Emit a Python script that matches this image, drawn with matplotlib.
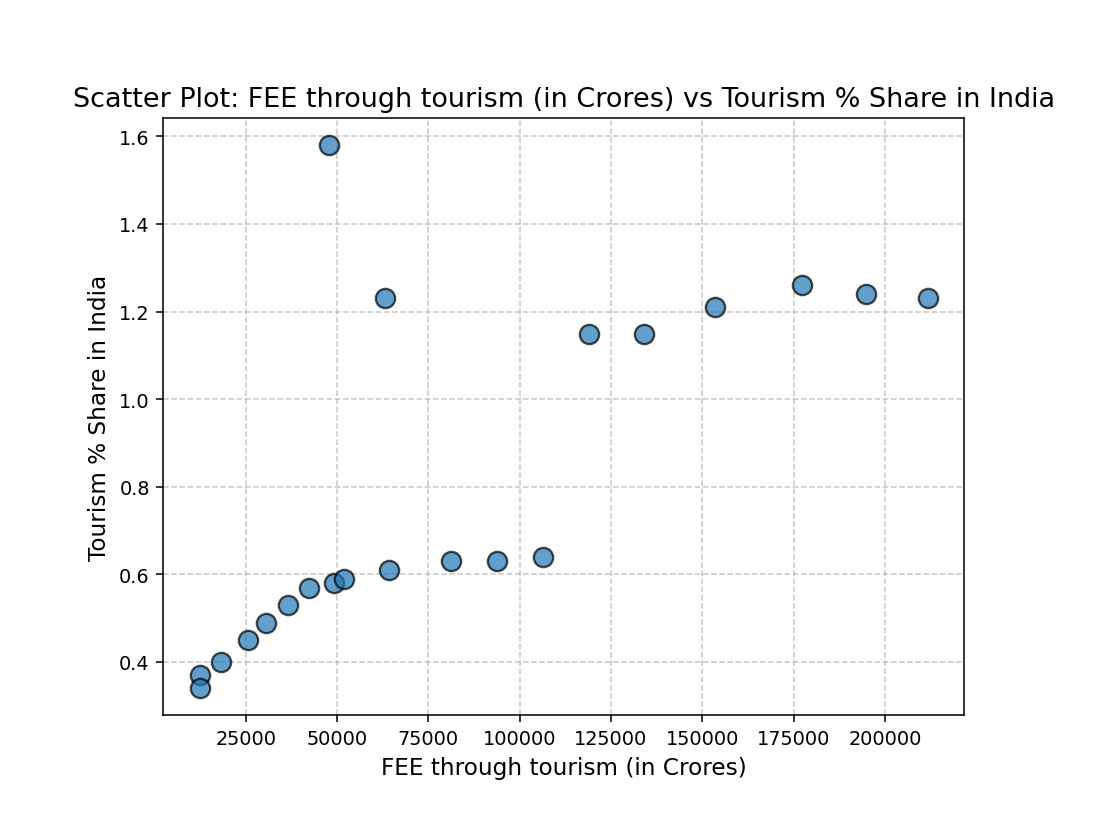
import matplotlib
matplotlib.use("Agg")
import matplotlib.pyplot as plt

fee = [12400, 12400, 18150, 25550, 30480, 36500, 42250, 49100, 51840, 64170,
       81150, 93750, 106350, 47730, 63070, 118950, 134000, 153450, 177300, 194800, 211800]
share = [0.37, 0.34, 0.40, 0.45, 0.49, 0.53, 0.57, 0.58, 0.59, 0.61,
         0.63, 0.63, 0.64, 1.58, 1.23, 1.15, 1.15, 1.21, 1.26, 1.24, 1.23]

fig = plt.figure(figsize=(8, 5.868), dpi=138.875)
ax = fig.add_axes([0.147, 0.121, 0.721, 0.733])
ax.scatter(fee, share, s=100, alpha=0.7, edgecolors='black', linewidths=1.2, zorder=3)
ax.set_title("Scatter Plot: FEE through tourism (in Crores) vs Tourism % Share in India", fontsize=14)
ax.set_xlabel("FEE through tourism (in Crores)", fontsize=12)
ax.set_ylabel("Tourism % Share in India", fontsize=12)
ax.grid(True, linestyle='--', alpha=0.7)
fig.savefig("out.png", dpi=138.875)
